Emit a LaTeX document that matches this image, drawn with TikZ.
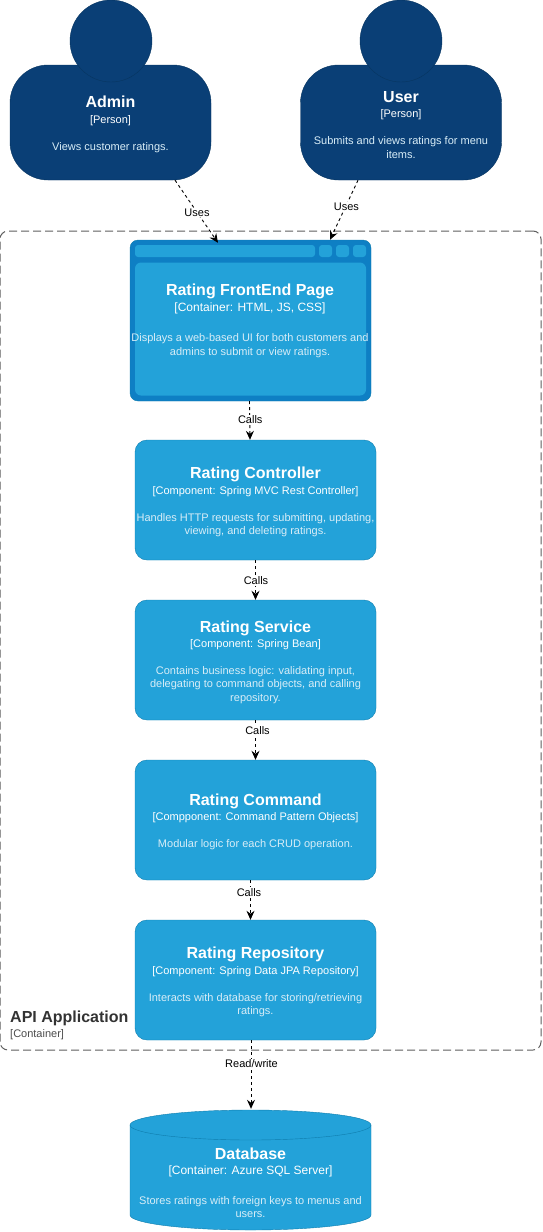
\documentclass[tikz,border=0pt]{standalone}
\usepackage{fontspec}
\setmainfont{Liberation Sans}
\usetikzlibrary{arrows.meta,calc}
\definecolor{cPerson}{HTML}{0A3F76}
\definecolor{cPersonLine}{HTML}{073560}
\definecolor{cComp}{HTML}{23A2D9}
\definecolor{cCompLine}{HTML}{0E7DAD}
\definecolor{cWeb}{HTML}{0E7FC4}
\definecolor{cApiEdge}{HTML}{5E5E5E}
\definecolor{cDesc}{HTML}{D8EDF7}
\definecolor{cDescP}{HTML}{CBD5E0}
\newcommand{\cDescFont}{\fontsize{11}{13.5}\selectfont\color{cDesc}}
\newcommand{\cNL}{\\[1.2pt]\cDescFont}
\newcommand{\cCard}[3]{\fontsize{16}{19}\selectfont\bfseries\rule{0pt}{15.5pt}#1\\[3.5pt]\fontsize{11}{13.5}\selectfont\mdseries #2\\[15pt]\cDescFont #3}
\newcommand{\cCardL}[3]{\fontsize{16}{19}\selectfont\bfseries #1\\[3pt]\fontsize{12}{13.5}\selectfont\mdseries #2\\[18pt]\cDescFont #3}
\tikzset{
  x=1pt,y=-1pt,line width=1pt,
  personbody/.style={draw=cPersonLine,fill=cPerson,rounded corners=38pt,minimum width=201pt,minimum height=115pt,inner sep=0pt,text=white,align=center},
  personhead/.style={circle,draw=cPersonLine,fill=cPerson,minimum size=82pt,inner sep=0pt},
  compbox/.style={draw=cCompLine,fill=cComp,rounded corners=12pt,minimum width=241pt,minimum height=120pt,inner sep=0pt,text=white,align=center},
  webouter/.style={draw=cCompLine,fill=cWeb,rounded corners=8pt,minimum width=241pt,minimum height=161pt,inner sep=0pt},
  webpart/.style={fill=cComp,rounded corners=3pt,inner sep=0pt},
  boundary/.style={draw=cApiEdge,line width=1pt,dash pattern=on 8pt off 4pt,rounded corners=8pt,minimum width=541pt,minimum height=819pt,inner sep=0pt},
  rel/.style={draw=black,line width=0.9pt,dash pattern=on 3pt off 3pt,-{Stealth[length=9pt,width=8pt,inset=3pt]}},
  rellabel/.style={fill=white,inner sep=1pt,text=black,xshift=0.5pt,yshift=-1pt,font=\fontsize{11}{13}\selectfont},
  cardtext/.style={text=white,align=center,inner sep=0pt},
}
\begin{document}
\begin{tikzpicture}
\useasboundingbox (0,0) rectangle (542,1232);
% boundary
\node[boundary] (api) at (270.5,640.5) {};
\node[anchor=north west,inner sep=0pt,align=left,text=black!80] (apilabel) at (10,1010.5) {\fontsize{16}{19}\selectfont\bfseries API Application\\[3pt]\fontsize{11}{13.5}\selectfont\mdseries\color{black!70}[Container]};
% persons
\node[personbody] (admin) at (110.5,122.5) {\colorlet{cDesc}{cDescP}\cCard{Admin}{[Person]}{Views customer ratings.}};
\node[personhead] (adminhead) at (111,41) {};
\node[personbody] (user) at (401,122.5) {\colorlet{cDesc}{cDescP}\cCard{User}{[Person]}{Submits and views ratings for menu\cNL items.}};
\node[personhead] (userhead) at (401,41) {};
% web page
\node[webouter] (front) at (250.5,320.5) {};
\node[webpart,minimum width=180pt,minimum height=12pt] (frontbar) at (225,251) {};
\node[webpart,minimum width=13pt,minimum height=12pt] (frontbtnA) at (325.5,251) {};
\node[webpart,minimum width=13pt,minimum height=12pt] (frontbtnB) at (342.5,251) {};
\node[webpart,minimum width=13pt,minimum height=12pt] (frontbtnC) at (359.5,251) {};
\node[webpart,rounded corners=6pt,minimum width=231pt,minimum height=133pt] (frontmain) at (250.5,329) {};
\node[cardtext] (fronttext) at (250,320.7) {\cCardL{Rating FrontEnd Page}{[Container: HTML, JS, CSS]}{Displays a web-based UI for both customers and\cNL admins to submit or view ratings.}};
% components
\node[compbox] (ctrl) at (255.5,500) {\cCard{Rating Controller}{[Component: Spring MVC Rest Controller]}{Handles HTTP requests for submitting, updating,\cNL viewing, and deleting ratings.}};
\node[compbox] (svc) at (255.5,660) {\cCard{Rating Service}{[Component: Spring Bean]}{Contains business logic: validating input,\cNL delegating to command objects, and calling\cNL repository.}};
\node[compbox] (cmd) at (255.5,820) {\cCard{Rating Command}{[Compponent: Command Pattern Objects]}{Modular logic for each CRUD operation.}};
\node[compbox] (repo) at (255.5,980) {\cCard{Rating Repository}{[Component: Spring Data JPA Repository]}{Interacts with database for storing/retrieving\cNL ratings.}};
% database
\draw[draw=cCompLine,fill=cComp] (130,1125) arc[start angle=180,end angle=0,x radius=120.5,y radius=-15]
  -- (371,1215) arc[start angle=0,end angle=180,x radius=120.5,y radius=15] -- cycle;
\draw[draw=cCompLine] (130,1125) arc[start angle=180,end angle=0,x radius=120.5,y radius=15];
\node[minimum width=241pt,minimum height=120pt,inner sep=0pt] (db) at (250.5,1170) {};
\node[cardtext] (dbtext) at (250.5,1182.5) {\cCardL{Database}{[Container: Azure SQL Server]}{Stores ratings with foreign keys to menus and\cNL users.}};
% connectors
\draw[rel] ([xshift=64.5pt]admin.south) -- node[rellabel,pos=0.5] {Uses} ([xshift=-32.5pt,yshift=-3pt]front.north);
\draw[rel] ([xshift=-43pt]user.south) -- node[rellabel,pos=0.43] {Uses} ([xshift=79.5pt]front.north);
\draw[rel] ([xshift=-1pt]front.south) -- node[rellabel,pos=0.46] {Calls} ([xshift=-5.5pt]ctrl.north);
\draw[rel] (ctrl.south) -- node[rellabel,pos=0.5] {Calls} (svc.north);
\draw[rel] (svc.south) -- node[rellabel,pos=0.23,xshift=1.5pt] {Calls} (cmd.north);
\draw[rel] ([xshift=-5pt]cmd.south) -- node[rellabel,pos=0.28,xshift=-2pt] {Calls} ([xshift=-5pt]repo.north);
\draw[rel] ([xshift=-4.5pt]repo.south) -- node[rellabel,pos=0.33] {Read/write} ([xshift=0.5pt,yshift=1pt]db.north);
\end{tikzpicture}
\end{document}
